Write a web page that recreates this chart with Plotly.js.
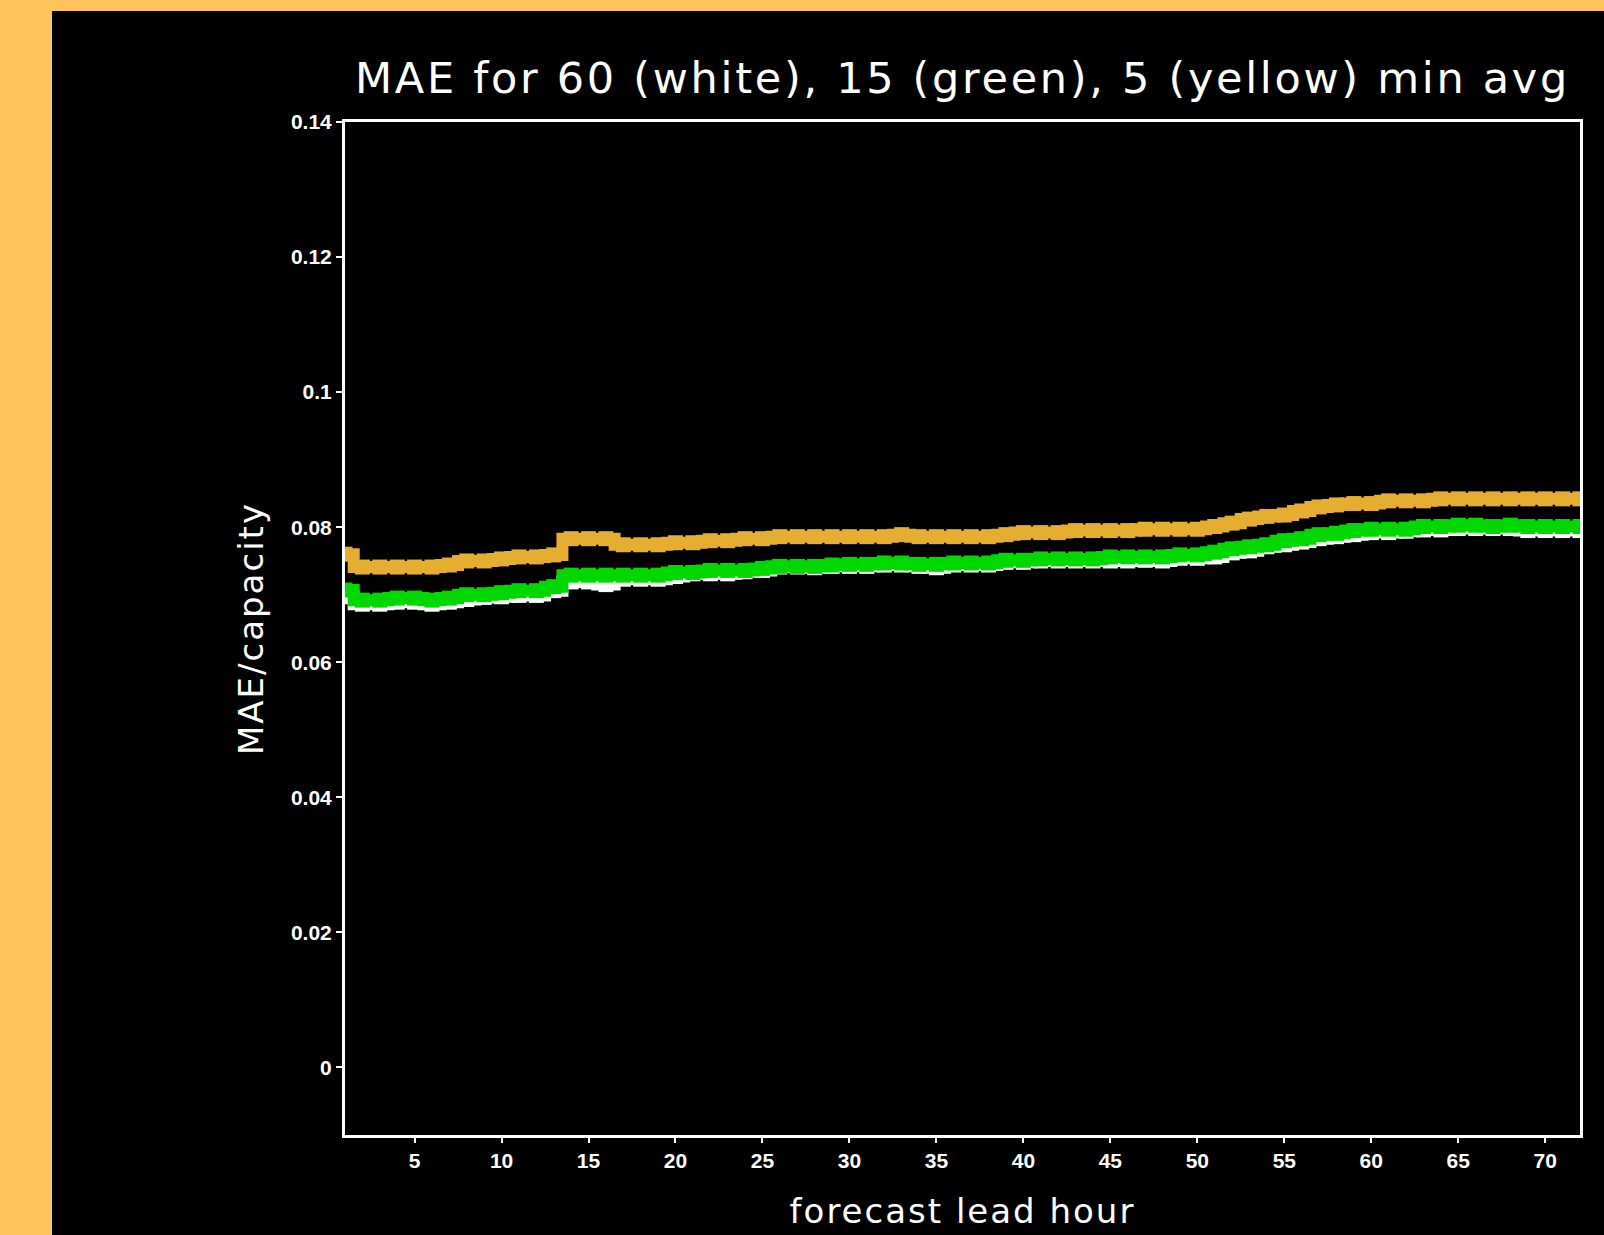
<!DOCTYPE html>
<html><head><meta charset="utf-8">
<script src="https://cdn.plot.ly/plotly-3.0.1.min.js"></script>
<style>
html,body{margin:0;padding:0;background:#FFC55C;width:1604px;height:1235px;overflow:hidden;}
#chart{position:absolute;left:52px;top:11px;width:1552px;height:1224px;}
.gtitle{letter-spacing:2.7px;}
.xtitle,.ytitle{letter-spacing:2px;}
</style></head><body><div id="chart"></div>
<script>
const hours = [1,2,3,4,5,6,7,8,9,10,11,12,13,14,15,16,17,18,19,20,21,22,23,24,25,26,27,28,29,30,31,32,33,34,35,36,
  37,38,39,40,41,42,43,44,45,46,47,48,49,50,51,52,53,54,55,56,57,58,59,60,61,62,63,64,65,66,67,68,69,70,71,72];

const mae60 = [0.0697,0.0686,0.0686,0.0689,0.0689,0.0686,0.0689,0.0693,0.0696,0.0697,0.0699,0.0699,0.0706,0.0719,0.0719,0.0715,0.0723,0.0723,
  0.0723,0.0727,0.0731,0.0731,0.0731,0.0734,0.0736,0.0741,0.0741,0.0740,0.0742,0.0742,0.0742,0.0744,0.0744,0.0742,0.0740,0.0744,
  0.0744,0.0744,0.0748,0.0748,0.0750,0.0750,0.0750,0.0750,0.0750,0.0750,0.0751,0.0750,0.0754,0.0754,0.0756,0.0762,0.0765,0.0771,
  0.0774,0.0778,0.0783,0.0786,0.0789,0.0792,0.0792,0.0794,0.0796,0.0796,0.0798,0.0798,0.0798,0.0798,0.0795,0.0795,0.0795,0.0795];

const mae15 = [0.0707,0.0692,0.0692,0.0695,0.0695,0.0692,0.0695,0.0700,0.0700,0.0703,0.0706,0.0706,0.0712,0.0729,0.0729,0.0729,0.0729,0.0729,
  0.0729,0.0733,0.0733,0.0736,0.0736,0.0736,0.0739,0.0742,0.0742,0.0742,0.0744,0.0745,0.0745,0.0747,0.0747,0.0745,0.0745,0.0747,
  0.0747,0.0747,0.0751,0.0751,0.0753,0.0753,0.0753,0.0753,0.0756,0.0756,0.0756,0.0756,0.0759,0.0759,0.0763,0.0768,0.0771,0.0774,
  0.0780,0.0783,0.0789,0.0791,0.0795,0.0797,0.0797,0.0797,0.0801,0.0801,0.0803,0.0803,0.0801,0.0803,0.0801,0.0801,0.0801,0.0801];

const mae5 = [0.0760,0.0741,0.0741,0.0741,0.0741,0.0741,0.0744,0.0750,0.0750,0.0753,0.0756,0.0756,0.0759,0.0783,0.0783,0.0783,0.0774,0.0774,
  0.0774,0.0777,0.0777,0.0780,0.0780,0.0783,0.0783,0.0786,0.0786,0.0786,0.0786,0.0786,0.0786,0.0786,0.0789,0.0786,0.0786,0.0786,
  0.0786,0.0786,0.0789,0.0792,0.0792,0.0792,0.0795,0.0795,0.0795,0.0795,0.0797,0.0797,0.0797,0.0797,0.0801,0.0806,0.0812,0.0816,
  0.0818,0.0824,0.0830,0.0833,0.0835,0.0835,0.0839,0.0839,0.0839,0.0842,0.0842,0.0842,0.0842,0.0842,0.0842,0.0842,0.0842,0.0842];

const xTickVals = [5,10,15,20,25,30,35,40,45,50,55,60,65,70];
const yTickVals = [0,0.02,0.04,0.06,0.08,0.1,0.12,0.14];
const yTickText = ["0","0.02","0.04","0.06","0.08","0.1","0.12","0.14"];

function series(y, color, name) {
  return {
    x: hours, y: y, name: name, type: 'scatter', mode: 'lines+markers',
    line: {color: color, width: 12, shape: 'hvh'},
    marker: {color: color, symbol: 'square', size: 15, line: {width: 0}},
    hoverinfo: 'x+y'
  };
}

const data = [
  series(mae60, '#FFFFFF', '60 min'),
  series(mae15, '#00D800', '15 min'),
  series(mae5, '#E6AE30', '5 min')
];

const tickFont = {family: 'Liberation Sans, Arial, sans-serif', size: 21, color: '#FFFFFF', weight: 700};
const labFont = {family: 'DejaVu Sans, sans-serif', size: 34, color: '#FFFFFF'};

const layout = {
  width: 1552, height: 1224,
  paper_bgcolor: '#000000', plot_bgcolor: '#000000',
  showlegend: false,
  margin: {l: 293, r: 24, t: 111, b: 100, pad: 0},
  title: {
    text: 'MAE for 60 (white), 15 (green), 5 (yellow) min avg',
    font: {family: 'DejaVu Sans, sans-serif', size: 43, color: '#FFFFFF'},
    x: 0.5, xref: 'paper', xanchor: 'center',
    y: 0.945, yref: 'container', yanchor: 'middle'
  },
  xaxis: {
    range: [1, 72], showgrid: false, zeroline: false,
    showline: true, linecolor: '#FFFFFF', linewidth: 3, mirror: true,
    ticks: 'outside', ticklen: 5, tickwidth: 2, tickcolor: '#FFFFFF',
    tickvals: xTickVals, tickfont: tickFont, automargin: false,
    title: {text: 'forecast lead hour', font: labFont, standoff: 28}
  },
  yaxis: {
    range: [-0.01, 0.14], showgrid: false, zeroline: false,
    showline: true, linecolor: '#FFFFFF', linewidth: 3, mirror: true,
    ticks: 'outside', ticklen: 6, tickwidth: 2, tickcolor: '#FFFFFF',
    tickvals: yTickVals, ticktext: yTickText, tickfont: tickFont, automargin: false,
    title: {text: 'MAE/capacity', font: labFont, standoff: 18}
  }
};

Plotly.newPlot('chart', data, layout, {displayModeBar: false, staticPlot: true});
</script>
</body></html>
